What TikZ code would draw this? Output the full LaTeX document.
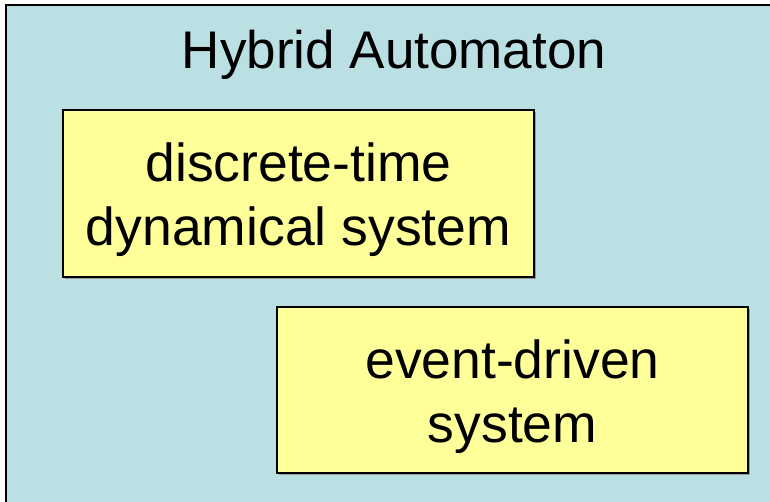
\documentclass[tikz,border=0pt]{standalone}
\usepackage{fontspec}
\setmainfont{Liberation Sans}
\usetikzlibrary{shadows}
\definecolor{paneblue}{HTML}{BBE0E3}
\definecolor{noteyellow}{HTML}{FFFF99}
\tikzset{
  frame/.style={draw=black, line width=2pt, fill=paneblue},
  box/.style={draw=black, line width=2pt, fill=noteyellow, inner sep=0pt,
    drop shadow={shadow xshift=1.5pt, shadow yshift=-1.5pt, fill=gray!80, opacity=1}},
  boxtext/.style={align=center, font=\fontsize{53.5}{64}\selectfont, inner sep=0pt},
  title/.style={font=\fontsize{53}{60}\selectfont, inner sep=0pt}
}
\begin{document}
\begin{tikzpicture}[x=1pt, y=-1pt]
  \useasboundingbox (0,0) rectangle (770,501);
  \fill[white] (0,0) rectangle (770,501);
  \clip (0,0) rectangle (770,501);
  % outer automaton pane, running past the right and bottom edges
  \draw[frame] (6,5) rectangle (790,520);
  \node[title, anchor=base] (ttl) at (394,68) {Hybrid Automaton};
  % the two component systems
  \node[box, minimum width=471pt, minimum height=167pt] (dts) at (298.5,193.5) {};
  \node[boxtext] (dtslabel) at ([yshift=-6.5pt]dts.center) {discrete-time\\dynamical system};
  \node[box, minimum width=471pt, minimum height=166pt] (eds) at (512.5,390) {};
  \node[boxtext] (edslabel) at ([yshift=-6.5pt]eds.center) {event-driven\\system};
\end{tikzpicture}
\end{document}
